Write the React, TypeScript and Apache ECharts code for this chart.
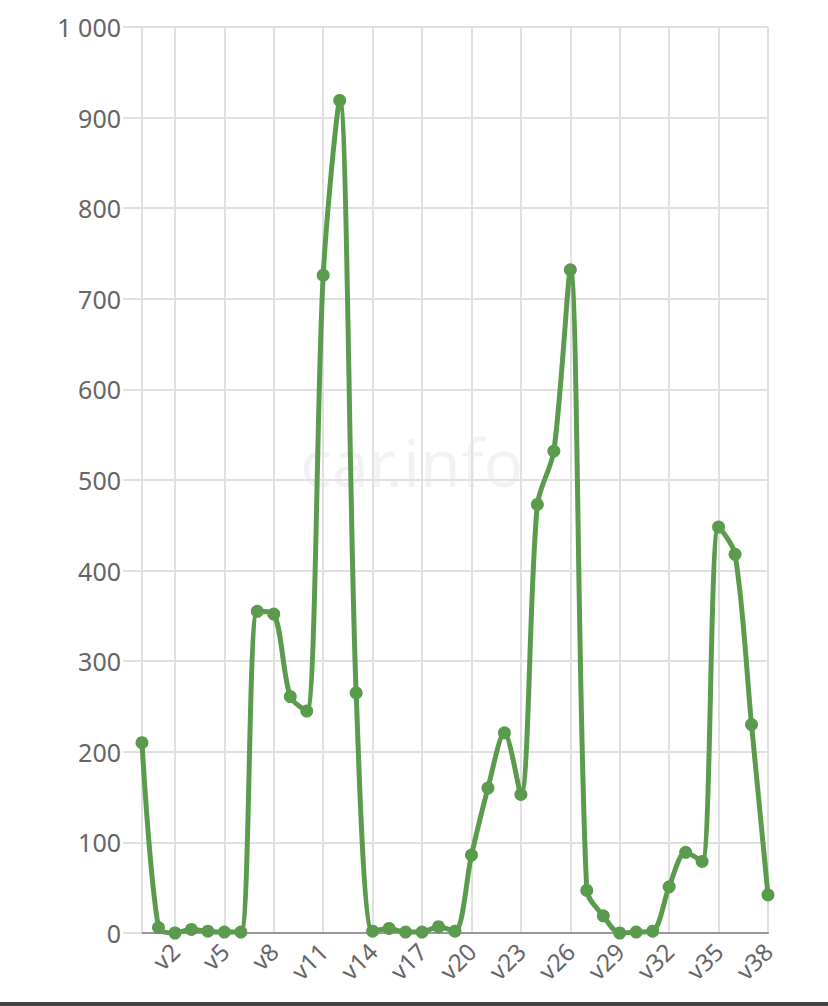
import React, { useEffect, useRef } from "react";
import * as echarts from "echarts";

const categories: string[] = Array.from({ length: 39 }, (_, i) => "v" + i);
const values: number[] = [
  210, 6, 0, 4, 2, 1, 1, 355, 352, 261, 245, 726, 919, 265, 2, 5, 1, 1, 7, 2,
  86, 160, 221, 153, 473, 532, 732, 47, 19, 0, 1, 2, 51, 89, 79, 448, 418, 230, 42,
];
const yTicks: number[] = [0, 100, 200, 300, 400, 500, 600, 700, 800, 900, 1000];

const fmt = (v: number) => String(v).replace(/\B(?=(\d{3})+(?!\d))/g, " ");

export default function App() {
  const ref = useRef<HTMLDivElement>(null);
  useEffect(() => {
    const chart = echarts.init(ref.current!, undefined, { renderer: "svg" });
    chart.setOption({
      animation: false,
      backgroundColor: "#ffffff",
      grid: { left: 142, right: 60, top: 27, bottom: 73, containLabel: false },
      graphic: [
        {
          type: "text",
          left: 300,
          top: 428,
          silent: true,
          z: -1,
          style: {
            text: "car.info",
            font: "66px 'Noto Sans'",
            fill: "rgba(0,0,0,0.05)",
          },
        },
        {
          type: "rect",
          left: 0,
          top: 1002,
          shape: { width: 828, height: 4 },
          style: { fill: "#444" },
        },
      ],
      xAxis: {
        type: "category",
        data: categories,
        boundaryGap: false,
        axisLine: { show: true, lineStyle: { color: "#999", width: 2 } },
        axisTick: { show: false },
        axisLabel: {
          interval: (i: number) => i % 3 === 2,
          rotate: 45,
          color: "#666",
          fontSize: 24,
          fontFamily: "Noto Sans",
          margin: 14,
        },
        splitLine: {
          show: true,
          interval: (i: number) => i % 3 === 2 || i === 0,
          lineStyle: { color: "#e0e0e0", width: 2 },
        },
      },
      yAxis: {
        type: "value",
        min: yTicks[0],
        max: yTicks[yTicks.length - 1],
        interval: 100,
        axisLine: { show: false },
        axisTick: { show: true, length: 19, lineStyle: { color: "#e0e0e0", width: 2 } },
        axisLabel: {
          color: "#666",
          fontSize: 25,
          fontFamily: "Noto Sans",
          margin: 21,
          formatter: (v: number) => fmt(v),
        },
        splitLine: { show: true, lineStyle: { color: "#e0e0e0", width: 2 } },
      },
      series: [
        {
          type: "line",
          data: values,
          smooth: 0.3,
          showAllSymbol: true,
          symbol: "circle",
          symbolSize: 13,
          lineStyle: { color: "#5b9b4e", width: 5 },
          itemStyle: { color: "#5b9b4e" },
        },
      ],
    });
    return () => chart.dispose();
  }, []);
  return (
    <div
      ref={ref}
      style={{ position: "fixed", left: 0, top: 0, width: 828, height: 1006 }}
    />
  );
}
